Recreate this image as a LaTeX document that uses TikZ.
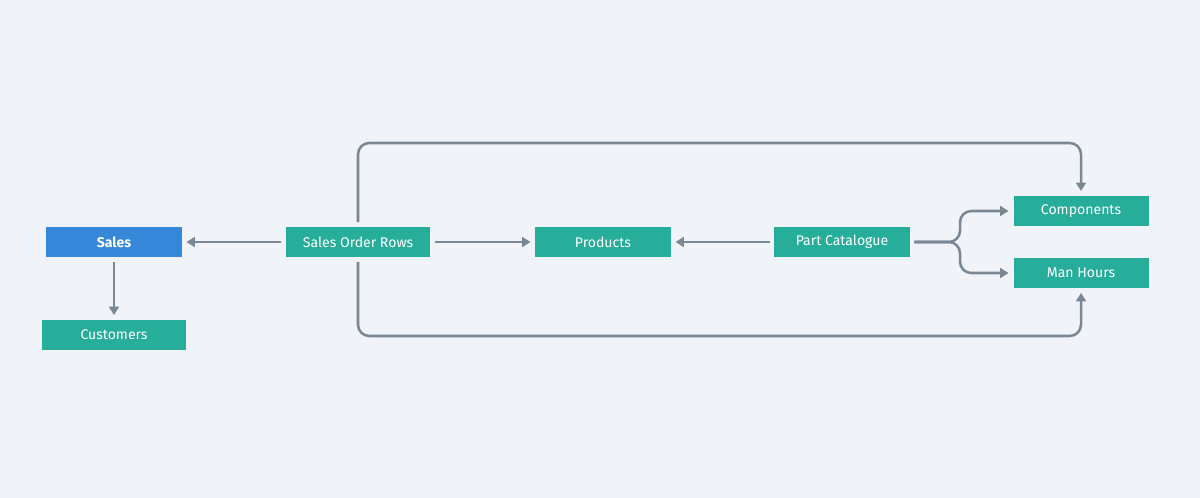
\documentclass[tikz,border=0pt]{standalone}
\usepackage{fontspec}
\setmainfont{Fira Sans}
\usetikzlibrary{arrows.meta}
\definecolor{bgcol}{HTML}{F0F4F8}
\definecolor{tealbox}{HTML}{27AE9B}
\definecolor{bluebox}{HTML}{3588D9}
\definecolor{linecol}{HTML}{7A8896}
\begin{document}
\begin{tikzpicture}[x=0.025cm,y=-0.025cm,
box/.style={rectangle,fill=tealbox,text=white,minimum width=3.375cm,minimum height=0.75cm,inner sep=0pt,outer sep=3.5pt,font=\fontsize{10}{12}\selectfont},
link/.style={draw=linecol,line width=1.8pt,-{Triangle[length=6pt,width=7pt]},rounded corners=8pt}]
\fill[bgcol] (0,0) rectangle (1200,498);
\node (sales) [box,fill=bluebox,font=\fontsize{10}{12}\selectfont\bfseries] at (114,242) {Sales};
\node (cust) [box,minimum width=3.6cm] at (114,335) {Customers};
\node (sor) [box,minimum width=3.6cm] at (358,242) {Sales Order Rows};
\node (prod) [box] at (603,242) {Products};
\node (pcat) [box] at (842,242) {Part Catalogue};
\node (comp) [box] at (1081,211) {Components};
\node (man) [box] at (1081,273) {Man Hours};
\draw[link] (sor) -- (sales);
\draw[link] (sales) -- (cust);
\draw[link] (sor) -- (prod);
\draw[link] (pcat) -- (prod);
\draw[link] (pcat.east) -- (960,242) |- (comp.west);
\draw[link] (pcat.east) -- (960,242) |- (man.west);
\draw[link] (sor.north) -- (358,143) -| (comp.north);
\draw[link] (sor.south) -- (358,336) -| (man.south);
\end{tikzpicture}
\end{document}
